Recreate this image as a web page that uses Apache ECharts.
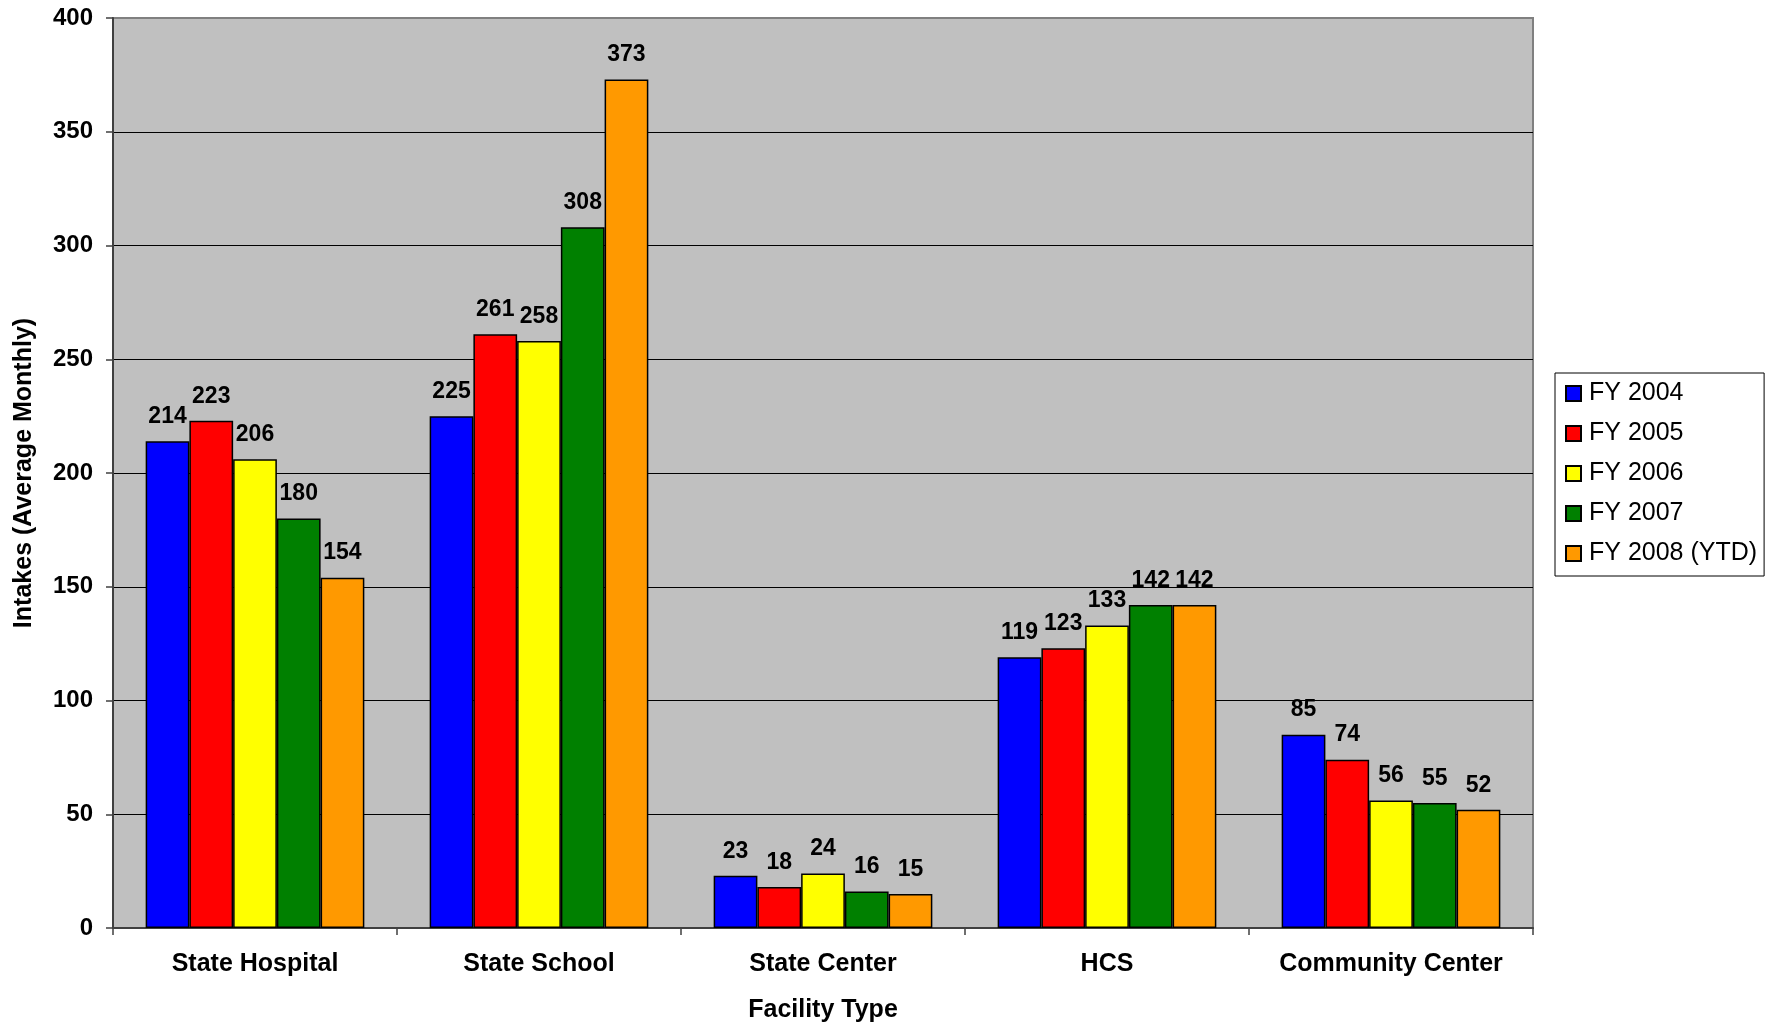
<!DOCTYPE html>
<html>
<head>
<meta charset="utf-8">
<script src="https://cdn.jsdelivr.net/npm/echarts@6/dist/echarts.min.js"></script>
<style>
html,body{margin:0;padding:0;background:#fff;}
#chart{width:1770px;height:1023px;}
</style>
</head>
<body>
<div id="chart"></div>
<script>
const categories = ['State Hospital', 'State School', 'State Center', 'HCS', 'Community Center'];
const seriesNames = ['FY 2004', 'FY 2005', 'FY 2006', 'FY 2007', 'FY 2008 (YTD)'];
const fy2004 = [214, 225, 23, 119, 85];
const fy2005 = [223, 261, 18, 123, 74];
const fy2006 = [206, 258, 24, 133, 56];
const fy2007 = [180, 308, 16, 142, 55];
const fy2008 = [154, 373, 15, 142, 52];
const yTicks = { min: 0, max: 400, interval: 50 };

const colors = ['#0000FF', '#FF0000', '#FFFF00', '#008000', '#FF9900'];
const seriesData = [fy2004, fy2005, fy2006, fy2007, fy2008];
const FONT = "'Liberation Sans', Arial, sans-serif";

const chart = echarts.init(document.getElementById('chart'), null, {renderer: 'canvas'});
chart.setOption({
  animation: false,
  backgroundColor: '#ffffff',
  textStyle: { fontFamily: FONT },
  grid: {
    left: 113, right: 237, top: 18, bottom: 95,
    containLabel: false, outerBoundsMode: 'none',
    show: true, backgroundColor: '#C0C0C0', borderColor: '#808080', borderWidth: 2
  },
  legend: {
    orient: 'vertical',
    left: 1555, top: 373,
    padding: [8, 7, 10, 10],
    itemGap: 15,
    itemWidth: 15, itemHeight: 15,
    icon: 'rect',
    backgroundColor: '#ffffff',
    borderColor: '#000000', borderWidth: 1,
    textStyle: { fontFamily: FONT, fontSize: 25, color: '#000', padding: [0, 0, 0, 3] },
    data: seriesNames
  },
  xAxis: {
    type: 'category',
    data: categories,
    name: 'Facility Type',
    nameLocation: 'middle',
    nameGap: 70,
    nameTextStyle: { fontFamily: FONT, fontSize: 25, fontWeight: 'bold', color: '#000' },
    axisLine: { lineStyle: { color: '#404040', width: 2 } },
    axisTick: { show: true, interval: 0, length: 7, lineStyle: { color: '#404040', width: 1.5 } },
    axisLabel: { interval: 0, hideOverlap: false, fontFamily: FONT, fontSize: 25, fontWeight: 'bold', color: '#000', margin: 24 },
    splitLine: { show: false }
  },
  yAxis: {
    type: 'value',
    min: yTicks.min, max: yTicks.max, interval: yTicks.interval,
    name: 'Intakes (Average Monthly)',
    nameLocation: 'middle',
    nameGap: 76,
    nameTextStyle: { fontFamily: FONT, fontSize: 25, fontWeight: 'bold', color: '#000' },
    axisLine: { show: true, lineStyle: { color: '#404040', width: 2 } },
    axisTick: { show: true, length: 7, lineStyle: { color: '#404040', width: 1.5 } },
    axisLabel: { fontFamily: FONT, fontSize: 24, fontWeight: 'bold', color: '#000', margin: 20 },
    splitLine: { show: true, showMaxLine: false, lineStyle: { color: '#000000', width: 1 } }
  },
  series: seriesNames.map((name, i) => ({
    name: name,
    type: 'bar',
    data: seriesData[i],
    barGap: '0%',
    barCategoryGap: '23%',
    itemStyle: { color: colors[i], borderColor: '#000000', borderWidth: 1.5 },
    label: {
      show: true, position: 'top', distance: 13,
      fontFamily: FONT, fontSize: 23, fontWeight: 'bold', color: '#000'
    }
  }))
});
</script>
</body>
</html>
